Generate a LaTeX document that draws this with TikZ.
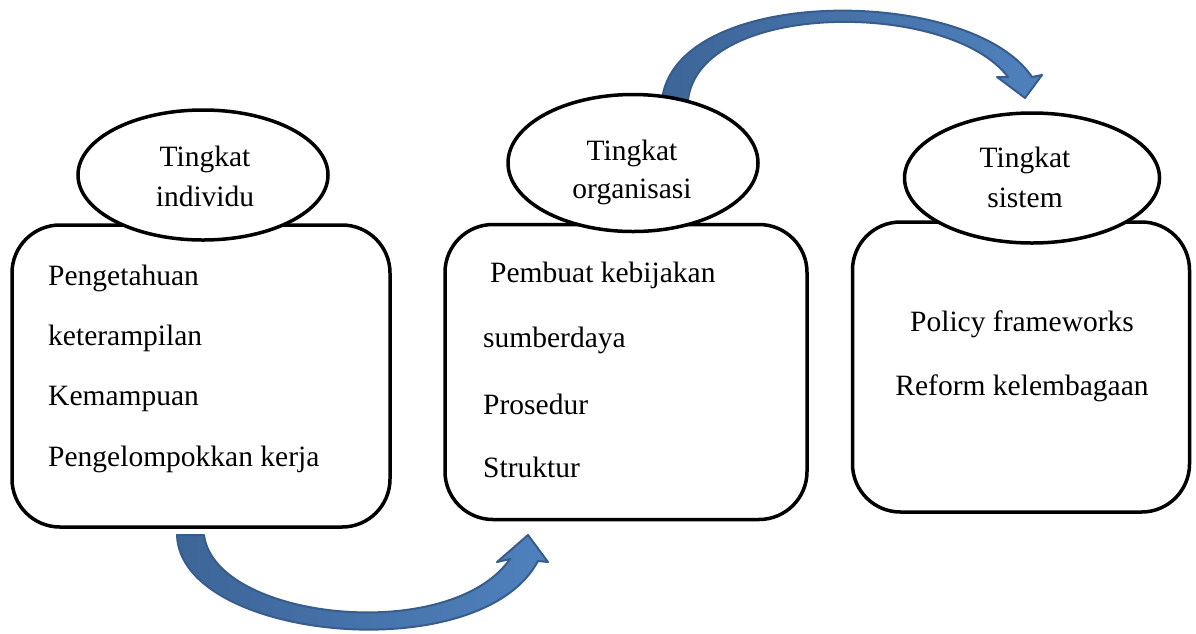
\documentclass[tikz,border=0pt]{standalone}
\usepackage{fontspec}
\setmainfont{Liberation Serif}
\usetikzlibrary{shapes.geometric}
\definecolor{arrowdark}{RGB}{56,93,138}
\definecolor{arrowleft}{RGB}{61,101,152}
\definecolor{arrowright}{RGB}{79,129,189}
\begin{document}
\begin{tikzpicture}[x=1pt,y=-1pt,
  box/.style={draw, line width=3.5pt, rounded corners=48pt, fill=white, inner sep=0pt},
  oval/.style={draw, ellipse, line width=3.5pt, fill=white, inner sep=0pt},
  txt/.style={font=\fontsize{29.5}{34}\selectfont, inner sep=0pt, anchor=base west},
  ctxt/.style={font=\fontsize{29.5}{34}\selectfont, inner sep=0pt, anchor=base},
  bigarrow/.style={draw=arrowdark, line width=2pt, line join=round, left color=arrowleft, right color=arrowright}
]
\useasboundingbox (0,0) rectangle (1196,633);

% curved arrows
\path[bigarrow] (177,535) .. controls (180,640) and (480,670) .. (538,561)
  -- (548,562) -- (528,535) -- (497,562) -- (510,559)
  .. controls (450,645) and (215,620) .. (204,535) -- cycle;
\path[bigarrow] (662,100) .. controls (675,-15) and (970,-15) .. (1032,77)
  -- (1042,75) -- (1025,98) -- (997,77) -- (1008,77)
  .. controls (950,0) and (700,0) .. (688,100) -- cycle;

% boxes
\node[box, minimum width=378pt, minimum height=302pt] (b1) at (201,376) {};
\node[box, minimum width=362pt, minimum height=295pt] (b2) at (626,372) {};
\node[box, minimum width=337pt, minimum height=290pt] (b3) at (1021,367) {};

% ellipses
\node[oval, minimum width=250pt, minimum height=130pt] (e1) at (203,175) {};
\node[oval, minimum width=250pt, minimum height=137pt] (e2) at (633,163) {};
\node[oval, minimum width=255pt, minimum height=130pt] (e3) at (1032,178) {};

% ellipse texts
\node[ctxt] (e1a) at (205,166) {Tingkat};
\node[ctxt] (e1b) at (205,206) {individu};
\node[ctxt] (e2a) at (632,160) {Tingkat};
\node[ctxt] (e2b) at (632,198) {organisasi};
\node[ctxt] (e3a) at (1025,167) {Tingkat};
\node[ctxt] (e3b) at (1025,207) {sistem};

% box 1 texts
\node[txt] (t11) at (48,285) {Pengetahuan};
\node[txt] (t12) at (48,345) {keterampilan};
\node[txt] (t13) at (48,405) {Kemampuan};
\node[txt] (t14) at (48,466) {Pengelompokkan kerja};

% box 2 texts
\node[txt] (t21) at (490,282) {Pembuat kebijakan};
\node[txt] (t22) at (483,347) {sumberdaya};
\node[txt] (t23) at (483,414) {Prosedur};
\node[txt] (t24) at (483,477) {Struktur};

% box 3 texts
\node[ctxt] (t31) at (1022,331) {Policy frameworks};
\node[ctxt] (t32) at (1022,395) {Reform kelembagaan};
\end{tikzpicture}
\end{document}
